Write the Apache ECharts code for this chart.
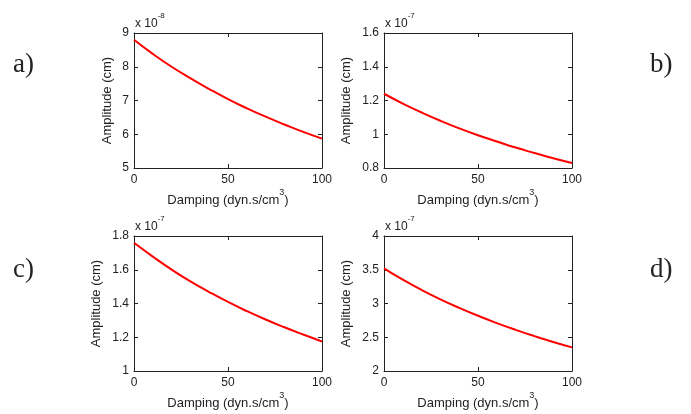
<!DOCTYPE html>
<html>
<head>
<meta charset="utf-8">
<script src="https://cdn.jsdelivr.net/npm/echarts@6/dist/echarts.min.js"></script>
<style>
  html, body { margin: 0; padding: 0; background: #fff; }
  #main { width: 691px; height: 414px; }
</style>
</head>
<body>
<div id="main"></div>
<script>
// damping values (dyn.s/cm3)
var damping = [0, 10, 20, 30, 40, 50, 60, 70, 80, 90, 100];

// amplitudes, in units of the exponent shown on each panel
var ampA = [8.80, 8.38, 8.00, 7.66, 7.34, 7.04, 6.77, 6.52, 6.29, 6.07, 5.87];   // x 10^-8
var ampB = [1.240, 1.182, 1.129, 1.080, 1.035, 0.994, 0.957, 0.921, 0.889, 0.858, 0.830]; // x 10^-7
var ampC = [1.760, 1.678, 1.601, 1.531, 1.468, 1.409, 1.355, 1.305, 1.259, 1.216, 1.175]; // x 10^-7
var ampD = [3.520, 3.352, 3.201, 3.062, 2.935, 2.818, 2.710, 2.610, 2.517, 2.430, 2.350]; // x 10^-7

var panelNames = ['a)', 'b)', 'c)', 'd)'];
var exponents = ['-8', '-7', '-7', '-7'];
var yMin = [5, 0.8, 1, 2];
var yMax = [9, 1.6, 1.8, 4];
var yStep = [1, 0.2, 0.2, 0.5];

var chart = echarts.init(document.getElementById('main'));

var grids = [
  { left: 134, top: 33, width: 188, height: 135 },
  { left: 384, top: 33, width: 188, height: 135 },
  { left: 134, top: 236, width: 188, height: 135 },
  { left: 384, top: 236, width: 188, height: 135 }
];
var nameGaps = [20, 31, 31, 31];
var allAmps = [ampA, ampB, ampC, ampD];

var ink = '#222';
var labelFont = 'Liberation Sans';

var xAxes = [], yAxes = [], series = [], graphics = [];

grids.forEach(function (g, i) {
  // bottom axis with labels
  xAxes.push({
    type: 'value', gridIndex: i, min: 0, max: 100, interval: 50,
    position: 'bottom',
    axisLine: { show: true, onZero: false, lineStyle: { color: ink, width: 1 } },
    axisTick: { show: true, inside: true, length: 4, lineStyle: { color: ink } },
    axisLabel: { color: ink, fontSize: 12, fontFamily: labelFont, margin: 6 },
    splitLine: { show: false },
    name: '{n|Damping (dyn.s/cm}{sup|3}{n|)}',
    nameLocation: 'middle', nameGap: 20,
    nameTextStyle: {
      rich: {
        n: { fontSize: 13, fontFamily: labelFont, color: ink, verticalAlign: 'bottom', lineHeight: 19 },
        sup: { fontSize: 9, fontFamily: labelFont, color: ink, verticalAlign: 'top', lineHeight: 19 }
      }
    }
  });
  // top mirror axis
  xAxes.push({
    type: 'value', gridIndex: i, min: 0, max: 100, interval: 50,
    position: 'top',
    axisLine: { show: true, onZero: false, lineStyle: { color: ink, width: 1 } },
    axisTick: { show: true, inside: true, length: 4, lineStyle: { color: ink } },
    axisLabel: { show: false },
    splitLine: { show: false }
  });
  // left axis with labels
  yAxes.push({
    type: 'value', gridIndex: i, min: yMin[i], max: yMax[i], interval: yStep[i],
    position: 'left',
    axisLine: { show: true, onZero: false, lineStyle: { color: ink, width: 1 } },
    axisTick: { show: true, inside: true, length: 4, lineStyle: { color: ink } },
    axisLabel: {
      color: ink, fontSize: 12, fontFamily: labelFont, margin: 5,
      formatter: function (v) { return String(+v.toFixed(2)); }
    },
    splitLine: { show: false },
    name: 'Amplitude (cm)',
    nameLocation: 'middle', nameGap: nameGaps[i], nameRotate: 90,
    nameTextStyle: { fontSize: 13, fontFamily: labelFont, color: ink }
  });
  // right mirror axis
  yAxes.push({
    type: 'value', gridIndex: i, min: yMin[i], max: yMax[i], interval: yStep[i],
    position: 'right',
    axisLine: { show: true, onZero: false, lineStyle: { color: ink, width: 1 } },
    axisTick: { show: true, inside: true, length: 4, lineStyle: { color: ink } },
    axisLabel: { show: false },
    splitLine: { show: false }
  });

  series.push({
    type: 'line',
    xAxisIndex: 2 * i, yAxisIndex: 2 * i,
    data: damping.map(function (d, k) { return [d, allAmps[i][k]]; }),
    smooth: true, showSymbol: false,
    lineStyle: { color: '#ff0000', width: 2 },
    z: 1
  });

  // exponent label above the plot box
  graphics.push({
    type: 'text', left: g.left + 1, top: g.top - 21,
    style: {
      text: '{n|x 10}{sup|' + exponents[i] + '}',
      rich: {
        n: { fontSize: 12, fontFamily: labelFont, fill: ink, verticalAlign: 'bottom', lineHeight: 18 },
        sup: { fontSize: 8, fontFamily: labelFont, fill: ink, verticalAlign: 'top', lineHeight: 18 }
      }
    }
  });
});

// panel letters
var letterPos = [[13, 66], [650, 66], [13, 271], [650, 271]];
panelNames.forEach(function (t, i) {
  graphics.push({
    type: 'text', left: letterPos[i][0], top: letterPos[i][1] - 15,
    style: { text: t, fontSize: 27, fontFamily: 'Liberation Serif', fill: '#222' }
  });
});

var option = {
  backgroundColor: '#ffffff',
  animation: false,
  grid: grids,
  xAxis: xAxes,
  yAxis: yAxes,
  series: series,
  graphic: graphics
};

chart.setOption(option, true);
</script>
</body>
</html>
